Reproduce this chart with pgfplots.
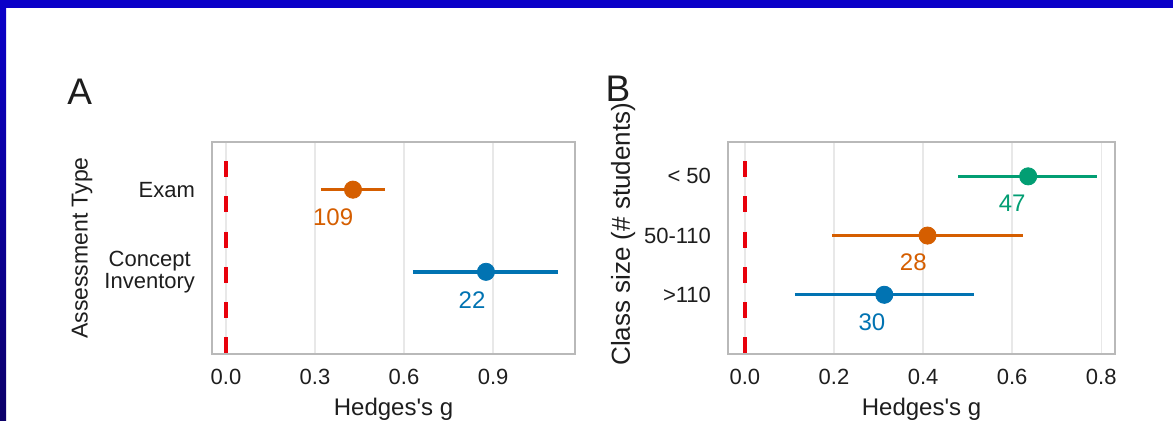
\documentclass[border=0pt]{standalone}
\usepackage{fontspec}
\setmainfont{Liberation Sans}[Ligatures=TeXOff]
\usepackage{pgfplots}
\pgfplotsset{compat=1.18}

\definecolor{cbBlue}{HTML}{0173B2}
\definecolor{cbOrange}{HTML}{D55E00}
\definecolor{cbGreen}{HTML}{029E73}
\definecolor{zeroRed}{HTML}{E8000B}
\definecolor{barBlue}{RGB}{10,0,200}
\definecolor{frameGray}{RGB}{185,185,185}
\definecolor{gridGray}{RGB}{232,232,232}
\definecolor{txt}{RGB}{30,30,30}

\pgfplotsset{
  forest/.style={
    scale only axis,
    anchor=south west,
    axis line style={draw=frameGray, line width=1bp},
    major tick length=0pt,
    xmajorgrids,
    grid style={draw=gridGray, line width=0.7bp},
    tick label style={font=\fontsize{11bp}{11bp}\selectfont, text=txt},
    xticklabel style={yshift=-4bp},
    yticklabel style={xshift=-5bp, align=center},
    xlabel style={at={(axis description cs:0.5,0)}, anchor=base, yshift=-30.5bp,
      font=\fontsize{12bp}{14bp}\selectfont, text=txt},
    /pgf/number format/fixed,
    /pgf/number format/fixed zerofill,
    /pgf/number format/precision=1,
    /pgf/number format/assume math mode=true,
  },
  ci/.style={line width=1.7bp},
  pt/.style={only marks, mark=*, mark size=4.3bp},
  zeroline/.style={zeroRed, line width=2.3bp, dash pattern=on 8bp off 9.6bp, dash phase=8bp},
}

\begin{document}
\begin{tikzpicture}
\fill[white] (0,0) rectangle (586.5bp,210.5bp);
\fill[barBlue] (0,206.5bp) rectangle (586.5bp,210.5bp);
\shade[top color=barBlue, bottom color={rgb,255:red,12;green,0;blue,105}] (0,0) rectangle (3bp,206.5bp);

\node[anchor=base west, inner sep=0pt, font=\fontsize{18.5bp}{20bp}\selectfont, text=txt] at (33.5bp,158bp) {A};
\node[anchor=base west, inner sep=0pt, font=\fontsize{18.5bp}{20bp}\selectfont, text=txt] at (302.6bp,159.5bp) {B};

% panel A: assessment type
\begin{axis}[forest,
  at={(106bp,33.5bp)}, width=181.5bp, height=106bp,
  xmin=-0.047, xmax=1.176, ymin=0, ymax=2.58,
  xtick={0,0.3,0.6,0.9},
  ytick={1,2}, yticklabels={Concept\\Inventory,Exam},
  xlabel={Hedges's g},
  ylabel={Assessment Type},
  ylabel style={at={(axis description cs:-0.358,0.5)}, anchor=center,
    font=\fontsize{11.5bp}{13bp}\selectfont, text=txt},
]
% drawn top-down so it starts with a gap
\addplot[zeroline] coordinates {(0,2.58) (0,0)};
% Exam
\addplot[cbOrange, ci] coordinates {(0.32,2) (0.536,2)};
\addplot[cbOrange, pt] coordinates {(0.428,2)};
% Concept Inventory
\addplot[cbBlue, ci] coordinates {(0.63,1) (1.119,1)};
\addplot[cbBlue, pt] coordinates {(0.876,1)};
\node[text=cbOrange, font=\fontsize{12bp}{12bp}\selectfont] at (axis cs:0.361,1.667) {109};
\node[text=cbBlue, font=\fontsize{12bp}{12bp}\selectfont] at (axis cs:0.829,0.657) {22};
\end{axis}

% panel B: class size
\begin{axis}[forest,
  at={(364bp,33.5bp)}, width=193.5bp, height=106bp,
  xmin=-0.038, xmax=0.831, ymin=0, ymax=3.58,
  xtick={0,0.2,0.4,0.6,0.8},
  ytick={1,2,3}, yticklabels={>110,50-110,< 50},
  xlabel={Hedges's g},
  ylabel={Class size (\# students)},
  ylabel style={at={(axis description cs:-0.271,0.565)}, anchor=center,
    font=\fontsize{13bp}{15bp}\selectfont, text=txt},
]
\addplot[zeroline] coordinates {(0,3.58) (0,0)};
% < 50
\addplot[cbGreen, ci] coordinates {(0.479,3) (0.79,3)};
\addplot[cbGreen, pt] coordinates {(0.636,3)};
% 50-110
\addplot[cbOrange, ci] coordinates {(0.196,2) (0.624,2)};
\addplot[cbOrange, pt] coordinates {(0.41,2)};
% >110
\addplot[cbBlue, ci] coordinates {(0.112,1) (0.515,1)};
\addplot[cbBlue, pt] coordinates {(0.313,1)};
\node[text=cbGreen, font=\fontsize{12bp}{12bp}\selectfont] at (axis cs:0.6,2.55) {47};
\node[text=cbOrange, font=\fontsize{12bp}{12bp}\selectfont] at (axis cs:0.378,1.554) {28};
\node[text=cbBlue, font=\fontsize{12bp}{12bp}\selectfont] at (axis cs:0.285,0.54) {30};
\end{axis}

\pgfresetboundingbox
\useasboundingbox (0,0) rectangle (586.5bp,210.5bp);
\end{tikzpicture}
\end{document}
